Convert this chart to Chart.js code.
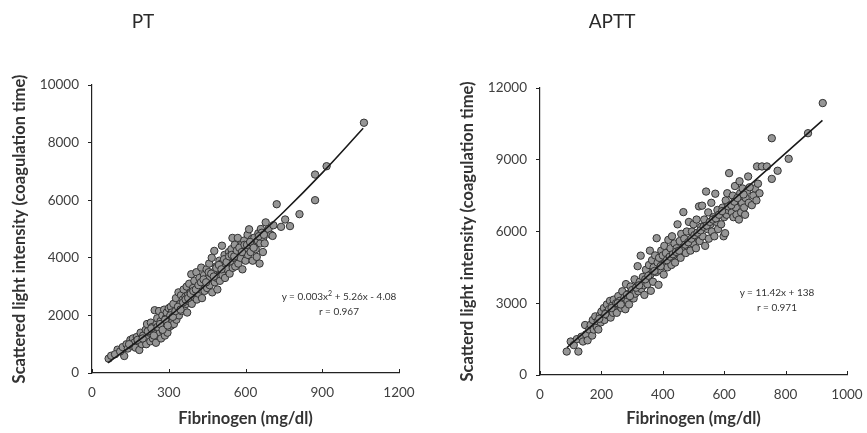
<!DOCTYPE html>
<html><head><meta charset="utf-8">
<script src="https://cdn.jsdelivr.net/npm/chart.js@4"></script>
<style>
html,body{margin:0;padding:0;background:#fff;}
body{width:867px;height:433px;position:relative;overflow:hidden;font-family:Lato,"Open Sans",sans-serif;}
.cv{position:absolute;top:0;}
.t{position:absolute;color:#333;white-space:nowrap;transform:translateX(-50%);}
.title{font-size:19px;top:9px;color:#2a2a2a;}
.eq{font-size:10px;color:#333;line-height:15px;text-align:center;}
</style></head><body>
<div class="cv" style="left:0;width:433px;height:433px;"><canvas id="c1"></canvas></div>
<div class="cv" style="left:448px;width:419px;height:433px;"><canvas id="c2"></canvas></div>
<div class="t title" style="left:143px;">PT</div>
<div class="t title" style="left:612px;">APTT</div>
<div class="t eq" style="left:339px;top:289px;">y = 0.003x<sup style="font-size:7px;line-height:0">2</sup> + 5.26x - 4.08<br>r = 0.967</div>
<div class="t eq" style="left:777px;top:285px;">y = 11.42x + 138<br>r = 0.971</div>
<script>
const ptX = [65,75,100,126,90,110,120,135,140,150,155,160,165,170,175,180,185,190,195,200,205,210,212,215,220,225,228,230,235,238,240,245,248,250,252,255,258,260,262,265,268,270,272,275,278,280,282,285,288,290,292,295,298,300,302,305,308,310,312,315,318,320,325,328,330,335,338,340,345,348,350,355,358,360,365,368,370,372,375,378,380,385,388,390,395,398,400,405,408,410,415,418,420,425,427,430,435,438,440,445,448,450,455,458,460,465,468,470,475,478,480,485,488,490,495,498,500,505,508,510,515,518,520,525,530,535,538,540,545,549,550,555,558,560,565,570,572,575,580,585,588,590,595,600,605,608,610,614,615,620,625,628,630,635,640,644,648,650,655,658,660,664,668,670,675,679,685,690,700,706,709,722,739,755,774,811,872,872,917,1063,
  145,178,198,218,232,242,256,266,276,286,296,306,316,326,336,346,356,366,376,386,396,406,416,426,436,446,456,466,476,486,496,506,516,526,536,546,556,566,576,586,596,606,618,632,652,672];
const ptY = [500,600,810,590,650,750,900,1000,850,1150,950,1200,1050,880,1250,1100,800,1400,1000,1300,1150,1500,1000,1700,1250,1400,1100,1750,1600,1200,1350,2180,1500,1050,1700,1900,1300,1550,2150,1400,1800,1200,1650,2000,1450,1750,2200,1300,1900,1550,2100,1400,1750,2250,1600,1950,2300,1650,2100,1800,2400,1700,2000,2600,1850,2250,2800,2000,2400,2700,2150,2550,2900,2250,2650,2400,3000,2100,2700,2500,3100,2800,3430,2400,2950,2650,3200,2800,3500,2550,3000,2750,3300,2900,3660,2600,3100,3400,2850,3200,3600,2950,3300,3800,3050,3450,4000,2800,3500,4240,3150,3700,3300,2900,3600,3900,3200,3800,4420,3400,3700,4100,3300,3900,3600,4200,3450,3850,4300,4690,3650,4000,4450,3700,4150,4690,3800,4300,4000,4450,3600,4200,4600,3900,4350,4800,4100,4990,4500,4200,4650,3900,4400,4700,4300,4030,4600,4850,3800,4500,5000,4870,4200,4700,4500,5230,4900,5000,4800,4760,5130,5860,5075,5330,5100,5515,6000,6890,7180,8690,
  1000,1150,1200,1450,1550,1300,1600,1700,1500,1850,1650,2000,1950,2150,2300,2200,2450,2550,2600,2750,2850,2900,3050,3150,3250,3150,3500,3450,3350,3650,3750,3600,3950,3850,4050,4100,4050,4250,4350,4200,4450,4450,4550,4350,4750,4800];
const ptFitX = [62,200,300,450,600,750,900,1060];
const ptFitY = [350,1250,1950,3100,4350,5600,6950,8500];

const apX = [87,100,125,110,120,135,140,147,150,155,160,165,170,172,175,180,185,188,190,195,198,200,205,208,210,215,218,220,225,228,230,235,238,240,245,248,250,255,258,260,265,268,270,275,278,280,285,288,290,295,298,300,305,308,310,315,318,320,325,328,330,335,338,340,345,348,350,355,358,360,361,365,368,370,375,378,380,383,386,388,390,395,398,400,403,405,408,410,415,418,420,425,428,430,435,438,440,445,448,450,455,458,460,465,467,470,475,478,480,485,488,490,495,498,500,505,508,510,515,518,520,525,528,530,535,538,541,545,548,550,555,558,560,565,568,571,575,578,580,585,590,595,598,600,603,605,608,610,612,616,620,625,628,630,635,638,640,645,648,650,652,655,658,660,665,668,670,675,678,680,690,695,700,705,707,710,715,723,739,755,755,774,810,873,921,
  193,213,233,253,263,283,293,313,323,343,353,373,393,413,423,433,443,453,473,483,493,503,513,523,533,543,553,563,573,583,593,613,623,633,643,663,683];
const apY = [980,1400,980,1250,1500,1600,1400,2090,1700,1450,1900,2100,1650,2300,1900,2450,2000,2250,1900,2500,2200,2650,2400,2800,2300,2600,2950,2500,2750,3100,2400,2900,2600,3150,2800,3000,2600,3300,2900,3100,2800,3500,3050,3250,2750,3800,3100,3400,2950,3700,3250,3550,3200,4000,3400,3700,4550,3500,3900,4990,3600,4100,3750,3350,4400,4000,3800,4600,5200,4200,3520,4800,3900,4500,5000,4300,5720,4700,3770,4900,4400,5200,4600,5000,4200,5400,4700,5100,4500,5650,4900,5300,4600,5800,5000,5500,4700,5300,6300,5100,5600,4900,5900,5300,6810,5700,5100,6000,5400,6400,5600,5200,6000,5500,6300,5800,5300,6500,5900,7050,5600,6200,7080,5800,6500,5400,7670,6100,6800,5700,6300,7200,6000,6600,5800,7580,6400,6900,6100,6700,6300,7000,5800,6600,5930,7300,6700,7600,6900,8440,7100,6800,7500,6600,7900,7000,6700,7300,6500,8100,7600,6800,7200,7800,7000,6700,7400,7700,8300,7200,7100,7500,7800,7300,8720,8000,7600,8720,8720,8200,9900,8540,9040,10110,11370,
  2350,2550,2800,3000,2950,3350,3300,3650,3750,4000,4150,4350,4550,4800,4950,5050,5150,5200,5450,5550,5700,5850,5950,6050,6200,6250,6400,6500,6550,6700,6850,7050,7100,7250,7400,7550,7850];
const apFitX = [88,920];
const apFitY = [1143,10644];

const ptXTicks = [0,300,600,900,1200];
const ptYTicks = [0,2000,4000,6000,8000,10000];
const apXTicks = [0,200,400,600,800,1000];
const apYTicks = [0,3000,6000,9000,12000];

Chart.defaults.font.family = 'Lato, "Open Sans", sans-serif';
Chart.defaults.color = '#404040';

function pts(xs, ys){ return xs.map((x,i)=>({x:x,y:ys[i]})); }

const innerTicks = {
  id:'innerTicks',
  afterDraw(chart){
    const sx = chart.scales.x, ctx = chart.ctx, yb = sx.top;
    ctx.save(); ctx.strokeStyle = '#222'; ctx.lineWidth = 1;
    sx.ticks.forEach(t=>{ const px = Math.round(sx.getPixelForValue(t.value))+0.5;
      ctx.beginPath(); ctx.moveTo(px, yb); ctx.lineTo(px, yb-4); ctx.stroke(); });
    ctx.restore();
  }
};

function make(id, xs, ys, fx, fy, xt, yt, yTitle, pad, xH){
  new Chart(document.getElementById(id), {
    type:'scatter',
    data:{datasets:[
      {data:pts(fx,fy), type:'line', borderColor:'#1a1a1a', borderWidth:1.6, pointRadius:0, tension:0.4, fill:false, order:0},
      {data:pts(xs,ys), backgroundColor:'#969696', borderColor:'#333', borderWidth:1, pointRadius:3.7, order:1}
    ]},
    plugins:[innerTicks],
    options:{
      responsive:true, maintainAspectRatio:false, animation:false,
      layout:{padding:pad},
      plugins:{legend:{display:false}, tooltip:{enabled:false}},
      scales:{
        x:{type:'linear', min:xt[0], max:xt[xt.length-1],
          afterBuildTicks:(s)=>{s.ticks = xt.map(v=>({value:v}));},
          afterFit:(s)=>{s.height = xH; s.paddingLeft = 0; s.paddingRight = 0;},
          border:{color:'#222', width:1.2},
          grid:{display:true, drawOnChartArea:false, drawTicks:false},
          ticks:{font:{size:13.5}, color:'#404040', padding:12, maxRotation:0, callback:(v)=>String(v)},
          title:{display:true, text:'Fibrinogen (mg/dl)', font:{size:16.5, weight:'bold'}, color:'#333', padding:{top:6}}
        },
        y:{type:'linear', min:yt[0], max:yt[yt.length-1],
          afterBuildTicks:(s)=>{s.ticks = yt.map(v=>({value:v}));},
          afterFit:(s)=>{s.width = 92; s.paddingTop = 0; s.paddingBottom = 0;},
          border:{color:'#222', width:1.2},
          grid:{display:true, drawOnChartArea:false, drawTicks:true, tickLength:4, color:'#222'},
          ticks:{font:{size:13.5}, color:'#404040', padding:9, callback:(v)=>String(v)},
          title:{display:true, text:yTitle, font:{size:16.5, weight:'bold'}, color:'#333', padding:{top:10, bottom:4}}
        }
      }
    }
  });
}
make('c1', ptX, ptY, ptFitX, ptFitY, ptXTicks, ptYTicks, 'Scattered light intensity (coagulation time)', {left:0,right:34,top:85,bottom:0}, 60);
make('c2', apX, apY, apFitX, apFitY, apXTicks, apYTicks, 'Scatterd light intensity (coagulation time)', {left:0,right:20,top:88,bottom:0}, 58);
</script>
</body></html>
